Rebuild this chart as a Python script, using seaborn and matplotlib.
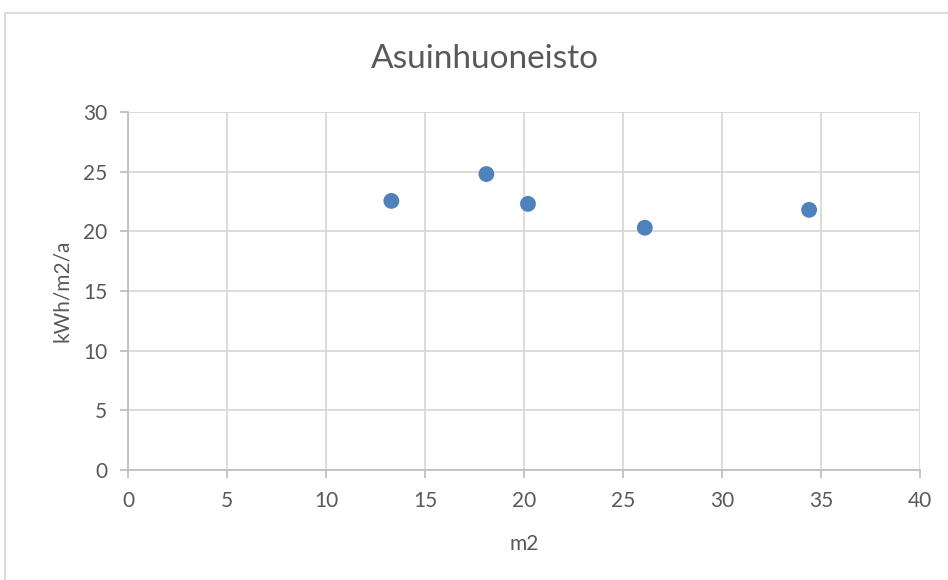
import matplotlib
matplotlib.use("Agg")
import matplotlib.pyplot as plt
from matplotlib.patches import Rectangle
import seaborn as sns
import pandas as pd

# Floor area (m2) and specific energy use (kWh/m2/a)
area_m2 = [13.3, 18.1, 20.2, 26.1, 34.4]
energy_kwh = [22.55, 24.8, 22.3, 20.3, 21.8]

x_ticks = [0, 5, 10, 15, 20, 25, 30, 35, 40]
y_ticks = [0, 5, 10, 15, 20, 25, 30]

title = "Asuinhuoneisto"
x_label = "m2"
y_label = "kWh/m2/a"

df = pd.DataFrame({"m2": area_m2, "kwh": energy_kwh})

sns.set_theme(style="white")
plt.rcParams["font.family"] = ["Lato", "DejaVu Sans"]

text_col = "#595959"
grid_col = "#D9D9D9"
axis_col = "#BFBFBF"

fig = plt.figure(figsize=(9.48, 5.80), dpi=100)
ax = fig.add_axes([128 / 948, 1 - 470 / 580, (920 - 128) / 948, (470 - 112) / 580])

sns.scatterplot(data=df, x="m2", y="kwh", ax=ax, color="#4F81BD",
                s=130, edgecolor="none", zorder=3, legend=False)

ax.set_xlim(0, 40)
ax.set_ylim(0, 30)
ax.set_xticks(x_ticks)
ax.set_yticks(y_ticks)
ax.set_xticklabels([str(t) for t in x_ticks])
ax.set_yticklabels([str(t) for t in y_ticks])

ax.grid(True, color=grid_col, linewidth=1.3)
ax.set_axisbelow(True)
for side in ["top", "right"]:
    ax.spines[side].set_visible(False)
for side in ["left", "bottom"]:
    ax.spines[side].set_color(axis_col)
    ax.spines[side].set_linewidth(1.3)

ax.tick_params(axis="both", which="major", direction="out", length=6, width=1.3,
               color=axis_col, labelcolor=text_col, labelsize=15)
ax.tick_params(axis="x", bottom=True, pad=9)
ax.tick_params(axis="y", left=True, pad=9)

ax.set_xlabel(x_label, fontsize=15, color=text_col, labelpad=17)
ax.set_ylabel(y_label, fontsize=15, color=text_col, labelpad=8)

fig.text(485 / 948, 1 - 59 / 580, title, fontsize=24, color=text_col,
         ha="center", va="center")

# Chart frame
fig.add_artist(Rectangle((5 / 948, -0.2), 1.2, 1.2 - 13 / 580,
                         transform=fig.transFigure, fill=False,
                         edgecolor=grid_col, linewidth=1.3))

fig.savefig("out.png", dpi=100, facecolor="white")
